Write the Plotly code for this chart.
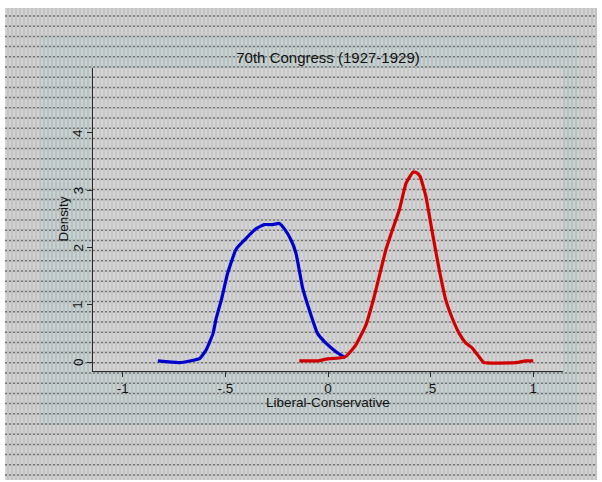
import plotly.graph_objects as go

# ---- data ----
blue_x = [-0.829, -0.724, -0.626, -0.594, -0.56, -0.545, -0.52, -0.489, -0.448, -0.407,
          -0.35, -0.31, -0.27, -0.237, -0.213, -0.18, -0.156, -0.124, -0.091, -0.051,
          -0.01, 0.039, 0.084]
blue_y = [0.02, -0.01, 0.06, 0.21, 0.5, 0.76, 1.08, 1.55, 1.97, 2.13,
          2.33, 2.40, 2.40, 2.42, 2.33, 2.13, 1.9, 1.30, 0.91, 0.50,
          0.33, 0.18, 0.075]
red_x = [-0.14, -0.05, -0.01, 0.084, 0.136, 0.185, 0.225, 0.282, 0.314, 0.347,
         0.38, 0.415, 0.435, 0.449, 0.477, 0.509, 0.542, 0.574, 0.606, 0.639,
         0.672, 0.704, 0.736, 0.76, 0.915, 0.963, 1.0]
red_y = [0.02, 0.02, 0.05, 0.09, 0.30, 0.65, 1.14, 1.96, 2.31, 2.65,
         3.12, 3.32, 3.30, 3.24, 2.89, 2.25, 1.61, 1.08, 0.76, 0.5,
         0.33, 0.24, 0.09, -0.01, -0.01, 0.02, 0.02]
x_tickvals = [-1, -0.5, 0, 0.5, 1]
x_ticktext = ["-1", "-.5", "0", ".5", "1"]
y_tickvals = [0, 1, 2, 3, 4]
y_ticktext = ["0", "1", "2", "3", "4"]
title_text = "70th Congress (1927-1929)"
x_title = "Liberal-Conservative"
y_title = "Density"

# ---- geometry (pixels) ----
W, H = 602, 482
L, R, T, B = 93, 563, 68, 371  # plot area


def px(x):
    return (x - L) / (R - L)


def py(y):
    return (B - y) / (B - T)


shapes = []


def rect(x0, y0, x1, y1, color):
    shapes.append(dict(type="rect", xref="paper", yref="paper",
                       x0=px(x0), x1=px(x1), y0=py(y1), y1=py(y0),
                       fillcolor=color, line=dict(width=0), layer="below"))


# background regions
rect(5, 8, 597, 480, "#c3c3c3")
rect(40, 36, 578, 425, "#b8c1c2")
rect(L, T, R, B, "#c7c7c7")

# texture: light vertical stripes
xv = 6.0
while xv < 597:
    shapes.append(dict(type="line", xref="paper", yref="paper",
                       x0=px(xv), x1=px(xv), y0=py(480), y1=py(8),
                       line=dict(color="rgba(255,255,255,0.35)", width=1.5), layer="below"))
    xv += 4.0
# texture: dark horizontal lines
yv = 16.0
while yv < 480:
    shapes.append(dict(type="line", xref="paper", yref="paper",
                       x0=px(5), x1=px(597), y0=py(yv), y1=py(yv),
                       line=dict(color="rgba(55,55,55,0.62)", width=1.5, dash="2px,2px"),
                       layer="below"))
    yv += 10.2

fig = go.Figure()
fig.add_trace(go.Scatter(x=blue_x, y=blue_y, mode="lines",
                         line=dict(color="#0000CC", width=3.2, shape="spline", smoothing=0.4),
                         showlegend=False, hoverinfo="skip"))
fig.add_trace(go.Scatter(x=red_x, y=red_y, mode="lines",
                         line=dict(color="#D00000", width=3.2, shape="spline", smoothing=0.4),
                         showlegend=False, hoverinfo="skip"))

font = dict(family="Liberation Sans, Arial, sans-serif", size=13.5, color="#111111")
title_font = dict(family="Liberation Sans, Arial, sans-serif", size=15, color="#111111")
axis_common = dict(showgrid=False, zeroline=False, showline=True,
                   linecolor="#2a2a2a", linewidth=1.3, ticks="outside",
                   ticklen=5, tickwidth=1.2, tickcolor="#2a2a2a",
                   tickfont=font, mirror=False, fixedrange=True)

# y tick labels: rotated text placed on the y scale
ytick_annotations = [
    dict(text=t, xref="paper", yref="y", x=px(78), y=v, xanchor="center",
         yanchor="middle", textangle=-90, showarrow=False, font=font)
    for v, t in zip(y_tickvals, y_ticktext)
]

fig.update_layout(
    width=W, height=H,
    margin=dict(l=L, r=W - R, t=T, b=H - B, pad=0),
    paper_bgcolor="white",
    plot_bgcolor="rgba(0,0,0,0)",
    font=font,
    shapes=shapes,
    title=dict(text=title_text, x=328 / W, xanchor="center", xref="container",
               y=1 - 58 / H, yanchor="middle", yref="container", font=title_font),
    xaxis=dict(range=[-1.145, 1.145], tickvals=x_tickvals, ticktext=x_ticktext,
               **axis_common),
    yaxis=dict(range=[-0.157, 5.135], tickvals=y_tickvals, showticklabels=False,
               **axis_common),
    annotations=ytick_annotations + [
        dict(text=x_title, xref="paper", yref="paper", x=px(328), y=py(402),
             xanchor="center", yanchor="middle", showarrow=False, font=font),
        dict(text=y_title, xref="paper", yref="paper", x=px(63), y=py(219.5),
             xanchor="center", yanchor="middle", textangle=-90, showarrow=False, font=font),
    ],
)

fig.write_html("out.html", config={"displayModeBar": False},
               post_script="document.body.style.margin='0px';document.body.style.padding='0px';")
